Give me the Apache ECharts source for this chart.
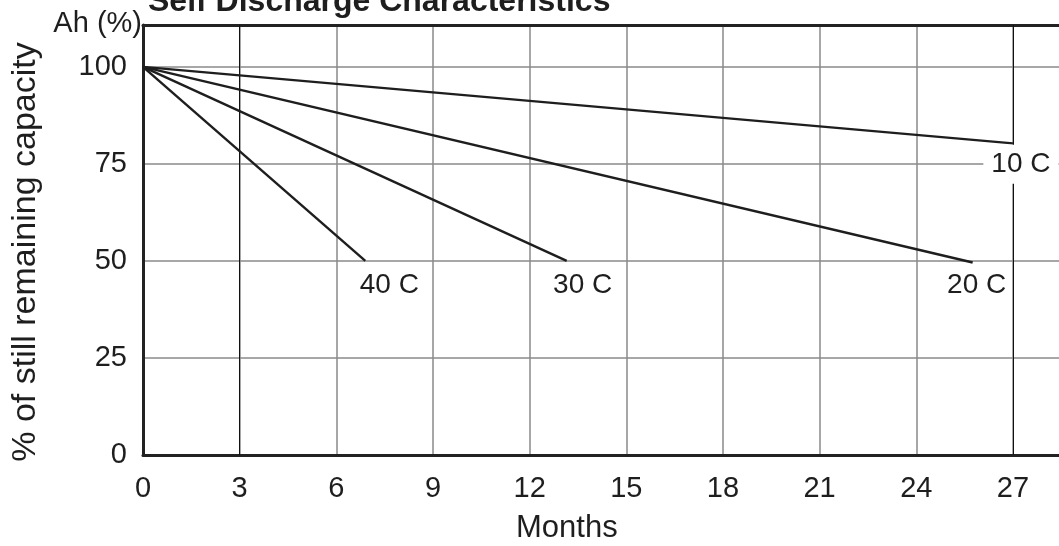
<!DOCTYPE html>
<html>
<head>
<meta charset="utf-8">
<script src="https://cdn.jsdelivr.net/npm/echarts@6/dist/echarts.min.js"></script>
<style>
html,body{margin:0;padding:0;background:#fff;}
#chart{width:1059px;height:546px;}
</style>
</head>
<body>
<div id="chart"></div>
<script>
// ---- data ----
const seriesNames = ['40 C', '30 C', '20 C', '10 C'];
const months40 = [0, 6.9];
const cap40 = [100, 50];
const months30 = [0, 13.15];
const cap30 = [100, 50];
const months20 = [0, 25.75];
const cap20 = [100, 49.6];
const months10 = [0, 27];
const cap10 = [100, 80.3];
const xTicks = [0, 3, 6, 9, 12, 15, 18, 21, 24, 27];
const yTicks = [0, 25, 50, 75, 100];
const darkGridMonths = [3, 27];

const FONT = '"Liberation Sans", Arial, sans-serif';
const ink = '#1e1e1e';

function pairs(xs, ys) { return xs.map((x, i) => [x, ys[i]]); }

const lineData = [
  pairs(months40, cap40),
  pairs(months30, cap30),
  pairs(months20, cap20),
  pairs(months10, cap10)
];
const labelOffsets = [[24, 24], [16, 24], [4, 23], [8, 21]];

const series = lineData.map((d, i) => {
  const last = d[d.length - 1];
  const isTen = seriesNames[i] === '10 C';
  const s = {
    name: seriesNames[i],
    type: 'line',
    data: d,
    showSymbol: false,
    symbol: 'none',
    silent: true,
    z: 5,
    lineStyle: { color: ink, width: 2.4 },
    markPoint: {
      symbol: 'circle',
      symbolSize: 0,
      silent: true,
      z: 6,
      data: [{
        coord: last,
        label: {
          show: true,
          formatter: seriesNames[i],
          position: 'inside',
          offset: labelOffsets[i],
          fontFamily: FONT,
          fontSize: 28,
          color: ink,
          backgroundColor: isTen ? '#ffffff' : 'transparent',
          padding: isTen ? [6, 8, 5, 8] : 0
        }
      }]
    }
  };
  if (i === 0) {
    s.markLine = {
      silent: true,
      symbol: 'none',
      label: { show: false },
      lineStyle: { color: '#111', width: 1, type: 'solid' },
      z: 2,
      data: darkGridMonths.map(m => ({ xAxis: m }))
    };
  }
  return s;
});

const xMax = 28.43;
const chart = echarts.init(document.getElementById('chart'), null, { renderer: 'canvas' });
chart.setOption({
  animation: false,
  backgroundColor: '#ffffff',
  grid: { left: 143, top: 25, bottom: 91, right: 0 },
  xAxis: [{
    type: 'value',
    min: 0, max: xMax, interval: 3,
    axisLine: { show: true, lineStyle: { color: '#222', width: 3 } },
    axisTick: { show: false },
    splitLine: { show: true, showMaxLine: false, lineStyle: { color: '#8a8a8a', width: 1.5 } },
    axisLabel: {
      margin: 19, fontSize: 29, color: ink, fontFamily: FONT,
      showMaxLabel: false,
      formatter: v => xTicks.indexOf(v) >= 0 ? String(v) : ''
    }
  }, {
    type: 'value',
    position: 'top',
    min: 0, max: xMax, interval: 3,
    axisLine: { show: true, onZero: false, lineStyle: { color: '#222', width: 3 } },
    axisTick: { show: false },
    axisLabel: { show: false },
    splitLine: { show: false }
  }],
  yAxis: {
    type: 'value',
    min: 0, max: 110.8, interval: 25,
    axisLine: { show: true, lineStyle: { color: '#222', width: 3 } },
    axisTick: { show: false },
    splitLine: { show: true, lineStyle: { color: '#8a8a8a', width: 1.5 } },
    axisLabel: {
      margin: 16, fontSize: 29, color: ink, fontFamily: FONT,
      showMaxLabel: false,
      formatter: v => yTicks.indexOf(v) >= 0 ? String(v) : ''
    }
  },
  graphic: [
    { type: 'text', left: 148, top: -14, z: 10, silent: true,
      style: { text: 'Self Discharge Characteristics', fontFamily: FONT, fontWeight: 'bold', fontSize: 32, fill: ink } },
    { type: 'text', right: 1059 - 142, top: 9, z: 10, silent: true,
      style: { text: 'Ah (%)', fontFamily: FONT, fontSize: 29, fill: ink } },
    { type: 'text', left: 516, top: 513, z: 10, silent: true,
      style: { text: 'Months', fontFamily: FONT, fontSize: 31, fill: ink } },
    { type: 'text', x: 26, y: 252, rotation: Math.PI / 2, z: 10, silent: true,
      style: { text: '% of still remaining capacity', fontFamily: FONT, fontSize: 34, fill: ink,
               align: 'center', verticalAlign: 'middle' } }
  ],
  series: series
});
</script>
</body>
</html>
